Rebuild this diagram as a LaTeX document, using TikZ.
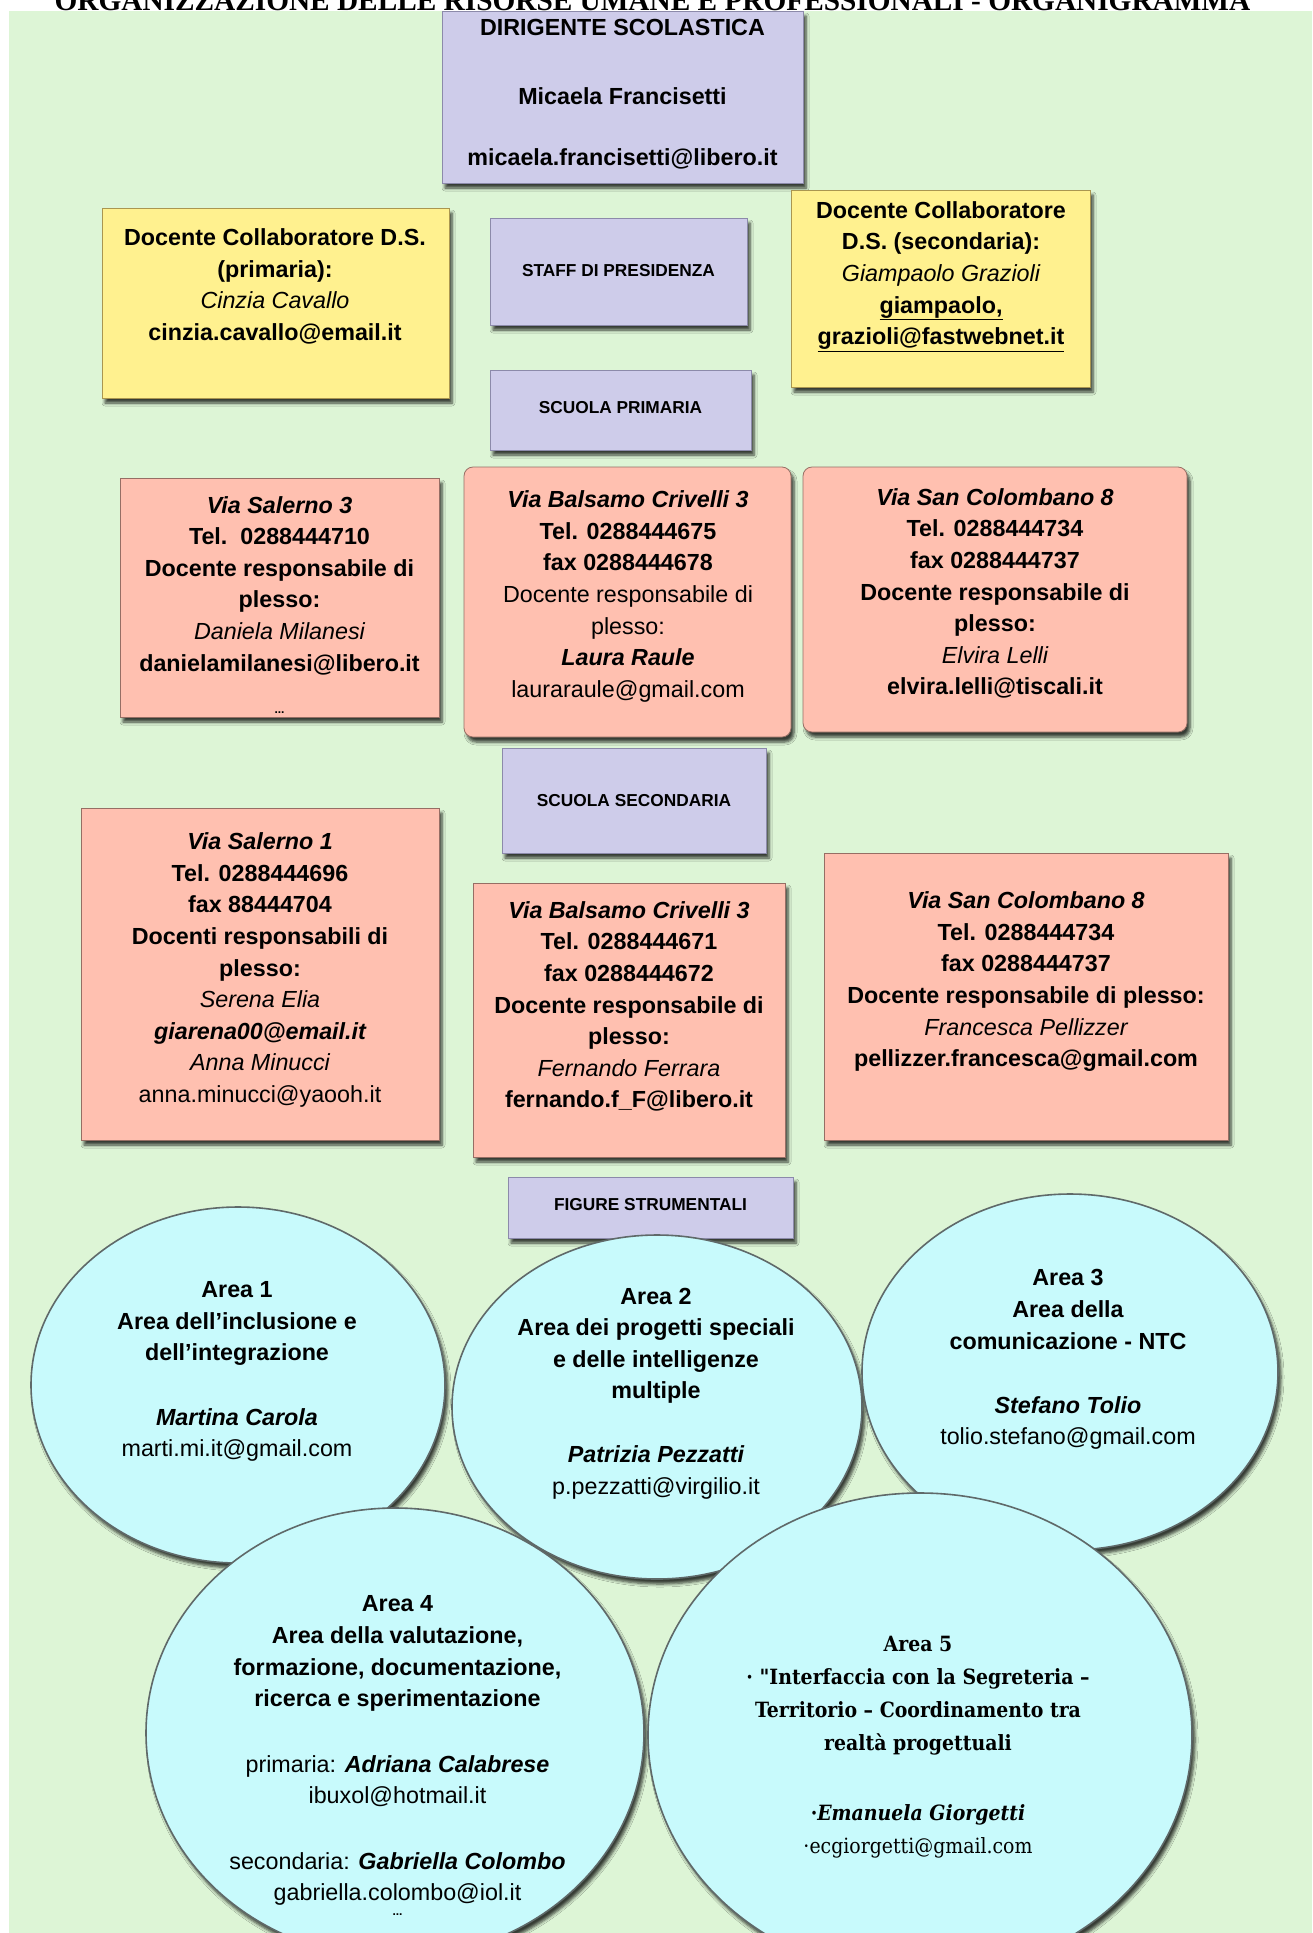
\documentclass[tikz,border=0pt]{standalone}
\usepackage{fontspec}
\setmainfont{Liberation Sans}
\newfontfamily\titlefont{Liberation Serif}
\newfontfamily\slabfont[FakeStretch=0.9]{DejaVu Serif}
\usetikzlibrary{shapes.geometric,shadows.blur}
\definecolor{bgc}{RGB}{221,245,214}
\definecolor{lavc}{RGB}{206,204,234}
\definecolor{lavd}{RGB}{140,138,170}
\definecolor{yelc}{RGB}{255,241,143}
\definecolor{yeld}{RGB}{170,150,80}
\definecolor{pnkc}{RGB}{255,192,176}
\definecolor{pnkd}{RGB}{150,110,100}
\definecolor{cyc}{RGB}{200,250,252}
\definecolor{ellc}{RGB}{95,105,105}
\newcommand\msz{\fontsize{23.3}{31.6}\selectfont}
\newcommand\ssz{\fontsize{17.3}{20}\selectfont}
\newcommand\mystrut{\rule[-0.24em]{0pt}{1em}}
\newcommand\IT[1]{{\itshape #1}}
\newcommand\RG[1]{{\mdseries\upshape #1}}
\begin{document}
\begin{tikzpicture}[x=1pt,y=-1pt,
  every node/.style={inner sep=0pt, outer sep=0pt},
  shd/.style={blur shadow={shadow xshift=3pt, shadow yshift=-5pt, shadow blur steps=5, shadow blur radius=3pt, shadow opacity=75}},
  lav/.style={rectangle, fill=lavc, draw=lavd, line width=0.8pt, shd},
  yel/.style={rectangle, fill=yelc, draw=yeld, line width=0.8pt, shd},
  pnk/.style={rectangle, fill=pnkc, draw=pnkd, line width=0.8pt, shd},
  ell/.style={ellipse, fill=cyc, draw=ellc, line width=1.6pt, shd},
  txt/.style={align=center, font=\msz, execute at begin node={\mystrut}, execute at end node={\mystrut}},
  lbl/.style={font=\bfseries\ssz},
  slab/.style={align=center, font=\slabfont\fontsize{21}{33.3}\selectfont, execute at begin node={\mystrut}, execute at end node={\mystrut}}
]
\useasboundingbox (0,0) rectangle (1312,1933);
\clip (0,0) rectangle (1312,1933);
\fill[white] (0,0) rectangle (1312,1933);
\fill[bgc] (9,11) rectangle (1312,1933);

% boxes
\node[lav, minimum width=361pt, minimum height=172pt] (ds) at (622.5,97) {};
\node[yel, minimum width=347pt, minimum height=190pt] (cl) at (275.5,303) {};
\node[lav, minimum width=257pt, minimum height=107pt] (staff) at (618.5,271.5) {};
\node[yel, minimum width=299pt, minimum height=197pt] (cr) at (940.5,288.5) {};
\node[lav, minimum width=261pt, minimum height=80pt] (prim) at (620.5,410) {};
\node[pnk, minimum width=319pt, minimum height=239pt] (p1) at (279.5,597.5) {};
\node[pnk, rounded corners=9pt, minimum width=327pt, minimum height=270pt] (p2) at (627.5,602) {};
\node[pnk, rounded corners=9pt, minimum width=384pt, minimum height=265pt] (p3) at (995,599.5) {};
\node[lav, minimum width=264pt, minimum height=105pt] (sec) at (634,800.5) {};
\node[pnk, minimum width=358pt, minimum height=332pt] (p4) at (260,974) {};
\node[pnk, minimum width=312pt, minimum height=274pt] (p5) at (629,1020) {};
\node[pnk, minimum width=404pt, minimum height=287pt] (p6) at (1026,996.5) {};
\node[lav, minimum width=285pt, minimum height=61pt] (fig) at (650.5,1207.5) {};

% ellipses
\node[ell, minimum width=414pt, minimum height=356pt] (e1) at (238,1385) {};
\node[ell, minimum width=410pt, minimum height=344pt] (e2) at (657,1407) {};
\node[ell, minimum width=416pt, minimum height=356pt] (e3) at (1070,1372) {};
\node[ell, minimum width=498pt, minimum height=450pt] (e4) at (395,1733) {};
\node[ell, minimum width=544pt, minimum height=484pt] (e5) at (920,1735) {};

% title
\node[anchor=base, font=\titlefont\bfseries\fontsize{29.3}{30}\selectfont] (title) at (652.5,10)
  {ORGANIZZAZIONE DELLE RISORSE UMANE E PROFESSIONALI - ORGANIGRAMMA};

% texts
\node[txt, font=\bfseries\msz] (tds) at (622.5,95)
  {DIRIGENTE SCOLASTICA\\[37.4pt]Micaela Francisetti\\[29.4pt]micaela.francisetti@libero.it};
\node[txt, font=\bfseries\msz] (tcl) at (275,287.5)
  {Docente Collaboratore D.S.\\(primaria):\\\RG{\IT{Cinzia Cavallo}}\\cinzia.cavallo@email.it};
\node[lbl] (tstaff) at (618.5,271) {STAFF DI PRESIDENZA};
\node[txt, font=\bfseries\msz] (tcr) at (941,276.5)
  {Docente Collaboratore\\D.S. (secondaria):\\\RG{\IT{Giampaolo Grazioli}}\\\underline{giampaolo,}\\\underline{grazioli@fastwebnet.it}};
\node[lbl] (tprim) at (620.5,408) {SCUOLA PRIMARIA};

\node[txt, font=\bfseries\msz] (tp1) at (279.5,586.5)
  {\IT{Via Salerno 3}\\Tel.\ \ 0288444710\\Docente responsabile di\\plesso:\\\RG{\IT{Daniela Milanesi}}\\danielamilanesi@libero.it};
\node[font=\bfseries\fontsize{12}{12}\selectfont] (dots1) at (279.5,713) {...};
\node[txt, font=\bfseries\msz] (tp2) at (628,596.8)
  {\IT{Via Balsamo Crivelli 3}\\Tel. 0288444675\\fax 0288444678\\\RG{Docente responsabile di}\\\RG{plesso:}\\\IT{Laura Raule}\\\RG{lauraraule@gmail.com}};
\node[txt, font=\bfseries\msz] (tp3) at (995,594.5)
  {\IT{Via San Colombano 8}\\Tel. 0288444734\\fax 0288444737\\Docente responsabile di\\plesso:\\\RG{\IT{Elvira Lelli}}\\elvira.lelli@tiscali.it};

\node[lbl] (tsec) at (634,801) {SCUOLA SECONDARIA};

\node[txt, font=\bfseries\msz] (tp4) at (260,970.5)
  {\IT{Via Salerno 1}\\Tel. 0288444696\\fax 88444704\\Docenti responsabili di\\plesso:\\\RG{\IT{Serena Elia}}\\\IT{giarena00@email.it}\\\RG{\IT{Anna Minucci}}\\\RG{anna.minucci@yaooh.it}};
\node[txt, font=\bfseries\msz] (tp5) at (629,1007.5)
  {\IT{Via Balsamo Crivelli 3}\\Tel. 0288444671\\fax 0288444672\\Docente responsabile di\\plesso:\\\RG{\IT{Fernando Ferrara}}\\fernando.f\_F@libero.it};
\node[txt, font=\bfseries\msz] (tp6) at (1026,982)
  {\IT{Via San Colombano 8}\\Tel. 0288444734\\fax 0288444737\\Docente responsabile di plesso:\\\RG{\IT{Francesca Pellizzer}}\\pellizzer.francesca@gmail.com};

\node[lbl] (tfig) at (650.5,1205) {FIGURE STRUMENTALI};

\node[txt, font=\bfseries\msz] (te1) at (237,1372)
  {Area 1\\Area dell'inclusione e\\dell'integrazione\\[33pt]\IT{Martina Carola}\\\RG{marti.mi.it@gmail.com}};
\node[txt, font=\bfseries\msz] (te2) at (656,1394)
  {Area 2\\Area dei progetti speciali\\e delle intelligenze\\multiple\\[32.4pt]\IT{Patrizia Pezzatti}\\\RG{p.pezzatti@virgilio.it}};
\node[txt, font=\bfseries\msz] (te3) at (1068,1360)
  {Area 3\\Area della\\comunicazione - NTC\\[32.4pt]\IT{Stefano Tolio}\\\RG{tolio.stefano@gmail.com}};
\node[txt, font=\bfseries\msz] (te4) at (397.5,1751)
  {Area 4\\Area della valutazione,\\formazione, documentazione,\\ricerca e sperimentazione\\[33.8pt]\RG{primaria:} \IT{Adriana Calabrese}\\\RG{ibuxol@hotmail.it}\\[33.8pt]\RG{secondaria:} \IT{Gabriella Colombo}\\\RG{gabriella.colombo@iol.it}};
\node[font=\bfseries\fontsize{12}{12}\selectfont] (dots4) at (397.5,1915) {...};
\node[slab, font=\slabfont\bfseries\fontsize{21}{33.3}\selectfont] (te5) at (918,1747)
  {Area 5\\· "Interfaccia con la Segreteria –\\Territorio – Coordinamento tra\\realtà progettuali\\[35.8pt]·\IT{Emanuela Giorgetti}\\\RG{·ecgiorgetti@gmail.com}};
\end{tikzpicture}
\end{document}
